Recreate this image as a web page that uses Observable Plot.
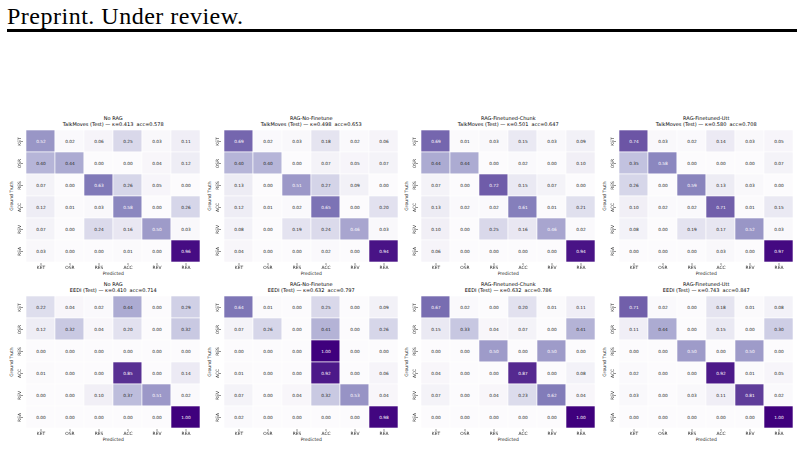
<!DOCTYPE html>
<html>
<head>
<meta charset="utf-8">
<script src="https://cdn.jsdelivr.net/npm/d3@7"></script>
<script src="https://cdn.jsdelivr.net/npm/@observablehq/plot@0.6"></script>
<style>
  body { margin: 0; background: #fff; }
  #page { position: relative; width: 804px; height: 449px; overflow: hidden; background: #fff; }
  .header { position: absolute; left: 7px; top: 4.4px; font-family: "Liberation Serif", serif; font-size: 24px;
            line-height: 24px; letter-spacing: 0.5px; color: #000; white-space: nowrap; }
  .rule { position: absolute; left: 7px; top: 28.5px; width: 790px; height: 3.5px; background: #000; }
  .panel { position: absolute; }
  .panel svg { overflow: visible; }
  .panel svg text { white-space: pre; }
  .panel svg g[aria-label$="tick label"] { filter: grayscale(1); }
</style>
</head>
<body>
<div id="page">
  <div class="header">Preprint. Under review.</div>
  <div class="rule"></div>
</div>
<script>
// Talk-move classes (rows: ground truth, columns: predicted)
const classes = ["KET", "OSR", "RES", "ACC", "REV", "REA"];

const methods = ["No RAG", "RAG-No-Finetune", "RAG-Finetuned-Chunk", "RAG-Finetuned-Utt"];
const datasets = ["TalkMoves", "EEDI"];

// Cohen's kappa and accuracy per dataset, per method
const talkKappa = [0.413, 0.498, 0.501, 0.580];
const talkAcc = [0.578, 0.653, 0.647, 0.708];
const eediKappa = [0.410, 0.632, 0.632, 0.743];
const eediAcc = [0.714, 0.797, 0.786, 0.847];

// Row-normalised confusion matrices, TalkMoves (Test)
const talkNoRag = [
  [0.52, 0.02, 0.06, 0.25, 0.03, 0.11],
  [0.40, 0.44, 0.00, 0.00, 0.04, 0.12],
  [0.07, 0.00, 0.63, 0.26, 0.05, 0.00],
  [0.12, 0.01, 0.03, 0.58, 0.00, 0.26],
  [0.07, 0.00, 0.24, 0.16, 0.50, 0.03],
  [0.03, 0.00, 0.00, 0.01, 0.00, 0.96]
];
const talkNoFinetune = [
  [0.69, 0.02, 0.03, 0.18, 0.02, 0.06],
  [0.40, 0.40, 0.00, 0.07, 0.05, 0.07],
  [0.13, 0.00, 0.51, 0.27, 0.09, 0.00],
  [0.12, 0.01, 0.02, 0.65, 0.00, 0.20],
  [0.08, 0.00, 0.19, 0.24, 0.46, 0.03],
  [0.04, 0.00, 0.00, 0.02, 0.00, 0.94]
];
const talkChunk = [
  [0.69, 0.01, 0.03, 0.15, 0.03, 0.09],
  [0.44, 0.44, 0.00, 0.02, 0.00, 0.10],
  [0.07, 0.00, 0.72, 0.15, 0.07, 0.00],
  [0.13, 0.02, 0.02, 0.61, 0.01, 0.21],
  [0.10, 0.00, 0.25, 0.16, 0.46, 0.02],
  [0.06, 0.00, 0.00, 0.00, 0.00, 0.94]
];
const talkUtt = [
  [0.74, 0.03, 0.02, 0.14, 0.03, 0.05],
  [0.35, 0.58, 0.00, 0.00, 0.00, 0.07],
  [0.26, 0.00, 0.59, 0.13, 0.03, 0.00],
  [0.10, 0.02, 0.02, 0.71, 0.01, 0.15],
  [0.08, 0.00, 0.19, 0.17, 0.52, 0.03],
  [0.00, 0.00, 0.00, 0.03, 0.00, 0.97]
];

// Row-normalised confusion matrices, EEDI (Test)
const eediNoRag = [
  [0.22, 0.04, 0.02, 0.44, 0.00, 0.29],
  [0.12, 0.32, 0.04, 0.20, 0.00, 0.32],
  [0.00, 0.00, 0.00, 0.00, 0.00, 0.00],
  [0.01, 0.00, 0.00, 0.85, 0.00, 0.14],
  [0.00, 0.00, 0.10, 0.37, 0.51, 0.02],
  [0.00, 0.00, 0.00, 0.00, 0.00, 1.00]
];
const eediNoFinetune = [
  [0.64, 0.01, 0.00, 0.25, 0.00, 0.09],
  [0.07, 0.26, 0.00, 0.41, 0.00, 0.26],
  [0.00, 0.00, 0.00, 1.00, 0.00, 0.00],
  [0.01, 0.00, 0.00, 0.92, 0.00, 0.06],
  [0.07, 0.00, 0.04, 0.32, 0.53, 0.04],
  [0.02, 0.00, 0.00, 0.00, 0.00, 0.98]
];
const eediChunk = [
  [0.67, 0.02, 0.00, 0.20, 0.01, 0.11],
  [0.15, 0.33, 0.04, 0.07, 0.00, 0.41],
  [0.00, 0.00, 0.50, 0.00, 0.50, 0.00],
  [0.04, 0.00, 0.00, 0.87, 0.00, 0.08],
  [0.07, 0.00, 0.04, 0.23, 0.62, 0.04],
  [0.00, 0.00, 0.00, 0.00, 0.00, 1.00]
];
const eediUtt = [
  [0.71, 0.02, 0.00, 0.18, 0.01, 0.08],
  [0.11, 0.44, 0.00, 0.15, 0.00, 0.30],
  [0.00, 0.00, 0.50, 0.00, 0.50, 0.00],
  [0.02, 0.00, 0.00, 0.92, 0.01, 0.05],
  [0.03, 0.00, 0.03, 0.11, 0.81, 0.02],
  [0.00, 0.00, 0.00, 0.00, 0.00, 1.00]
];

const talkMatrices = [talkNoRag, talkNoFinetune, talkChunk, talkUtt];
const eediMatrices = [eediNoRag, eediNoFinetune, eediChunk, eediUtt];

// Layout of the 2 x 4 grid of heatmaps (page pixels)
const colLefts = [22.5, 220.5, 418, 615.5];
const rowTops = [128.3, 294.3];
const gridW = 179.5, gridH = 135;
const ML = 24, MR = 2, MT = 16, MB = 16;
const ink = "#262626";

function heatmap(matrix, method, dataset, kappa, acc) {
  const cells = matrix.flatMap((row, i) => row.map((v, j) => ({truth: classes[i], pred: classes[j], v})));
  return Plot.plot({
    width: ML + gridW + MR,
    height: MT + gridH + MB,
    marginLeft: ML, marginRight: MR, marginTop: MT, marginBottom: MB,
    x: {domain: classes, padding: 0},
    y: {domain: classes, padding: 0},
    color: {type: "linear", scheme: "purples", domain: [0, 1]},
    style: {fontFamily: "DejaVu Sans", fontSize: "4.4px", color: ink, background: "transparent"},
    marks: [
      Plot.cell(cells, {x: "pred", y: "truth", fill: "v", stroke: "white", strokeWidth: 0.6}),
      Plot.text(cells, {
        x: "pred", y: "truth",
        text: d => d.v.toFixed(2),
        fill: d => (d.v > 0.45 ? "white" : ink),
        fontSize: 4.3
      }),
      Plot.axisX({tickSize: 2, tickPadding: 0.8, fontSize: 4.4, fill: ink, label: null, strokeWidth: 0.5}),
      Plot.axisY({tickSize: 2, tickPadding: 0.8, tickRotate: -90, fontSize: 4.4, fill: ink, label: null, strokeWidth: 0.5}),
      Plot.text([method], {text: d => d, frameAnchor: "top", lineAnchor: "middle", dy: -10, fontSize: 5, fill: "#000"}),
      Plot.text([`${dataset} (Test) — κ=${kappa.toFixed(3)}  acc=${acc.toFixed(3)}`], {
        text: d => d, frameAnchor: "top", lineAnchor: "middle", dy: -4.3, fontSize: 5, fill: "#000"
      }),
      Plot.text(["Predicted"], {text: d => d, frameAnchor: "bottom", lineAnchor: "middle", dy: 10, fontSize: 4.5, fill: ink}),
      Plot.text(["Ground Truth"], {
        text: d => d, frameAnchor: "left", textAnchor: "middle", lineAnchor: "middle",
        rotate: -90, dx: -11.5, fontSize: 4.5, fill: ink
      })
    ]
  });
}

const page = document.getElementById("page");
[talkMatrices, eediMatrices].forEach((mats, r) => {
  const kappas = r === 0 ? talkKappa : eediKappa;
  const accs = r === 0 ? talkAcc : eediAcc;
  mats.forEach((m, c) => {
    const div = document.createElement("div");
    div.className = "panel";
    div.style.left = (colLefts[c] - ML) + "px";
    div.style.top = (rowTops[r] - MT) + "px";
    div.appendChild(heatmap(m, methods[c], datasets[r], kappas[c], accs[c]));
    page.appendChild(div);
  });
});
</script>
</body>
</html>
